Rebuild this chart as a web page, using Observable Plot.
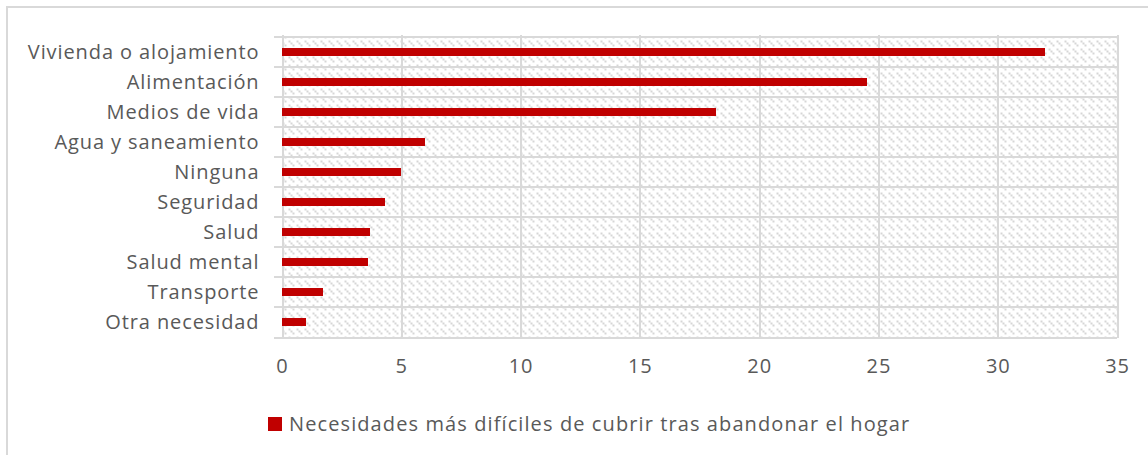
<!DOCTYPE html>
<html>
<head>
<meta charset="utf-8">
<script src="https://cdn.jsdelivr.net/npm/d3@7"></script>
<script src="https://cdn.jsdelivr.net/npm/@observablehq/plot@0.6"></script>
<style>
  html, body { margin: 0; padding: 0; background: #fff; overflow: hidden; }
  #wrap { position: relative; width: 1148px; height: 455px; }
  #border { position: absolute; left: 6px; top: 6px; width: 1200px; height: 500px;
            border: 2px solid #d9d9d9; box-sizing: border-box; pointer-events: none; }
  #legend { position: absolute; left: 268px; top: 410px; display: flex; align-items: center;
            font-family: "Open Sans", sans-serif; font-size: 20px; color: #595959; letter-spacing: 1.1px; }
  #legend .sw { width: 14px; height: 14px; background: #C00000; margin-right: 7px; }
</style>
</head>
<body>
<div id="wrap"><div id="chart"></div><div id="legend"><span class="sw"></span><span id="legtext"></span></div><div id="border"></div></div>
<script>
const categories = ["Vivienda o alojamiento", "Alimentación", "Medios de vida", "Agua y saneamiento", "Ninguna", "Seguridad", "Salud", "Salud mental", "Transporte", "Otra necesidad"];
const values = [32, 24.5, 18.2, 6.0, 5.0, 4.3, 3.7, 3.6, 1.7, 1.0];
const xTicks = [0, 5, 10, 15, 20, 25, 30, 35];
const seriesName = "Necesidades más difíciles de cubrir tras abandonar el hogar";

const data = categories.map((c, i) => ({category: c, value: values[i]}));

const W = 1148, H = 390, mt = 35, mb = 52, ml = 282, mr = 31;
const bw = (H - mt - mb) / categories.length;
const pxPerUnit = (W - ml - mr) / (xTicks[xTicks.length - 1] - xTicks[0]);
const stub = -8 / pxPerUnit;
const lastCat = categories[categories.length - 1];

const svg = Plot.plot({
  width: W, height: H,
  marginTop: mt, marginBottom: mb, marginLeft: ml, marginRight: mr,
  style: {fontFamily: "Open Sans, sans-serif", fontSize: "20px", color: "#595959", background: "transparent", letterSpacing: "0.9px"},
  x: {domain: [0, 35], ticks: xTicks},
  y: {domain: categories, padding: 0},
  marks: [
    Plot.frame({fill: "url(#hatch)", stroke: null}),
    Plot.gridX(xTicks, {stroke: "#d9d9d9", strokeOpacity: 1, strokeWidth: 2}),
    Plot.ruleY(categories, {y: d => d, x1: stub, x2: 35, dy: -bw / 2, stroke: "#d9d9d9", strokeWidth: 2}),
    Plot.ruleY([lastCat], {y: d => d, x1: stub, x2: 35, dy: bw / 2, stroke: "#d9d9d9", strokeWidth: 2}),
    Plot.barX(data, {y: "category", x: "value", fill: "#C00000", insetTop: 10.8, insetBottom: 10.8}),
    Plot.axisX({ticks: xTicks, tickSize: 0, tickPadding: 20, label: null}),
    Plot.axisY({tickSize: 0, tickPadding: 23, label: null})
  ]
});

const ns = "http://www.w3.org/2000/svg";
const defs = document.createElementNS(ns, "defs");
const pat = document.createElementNS(ns, "pattern");
pat.setAttribute("id", "hatch");
pat.setAttribute("patternUnits", "userSpaceOnUse");
pat.setAttribute("width", 8);
pat.setAttribute("height", 8);
const bg = document.createElementNS(ns, "rect");
bg.setAttribute("width", 8); bg.setAttribute("height", 8); bg.setAttribute("fill", "#ffffff");
pat.appendChild(bg);
[[0,0],[2,2],[4,4]].forEach(([x, y]) => {
  const r = document.createElementNS(ns, "rect");
  r.setAttribute("x", x); r.setAttribute("y", y);
  r.setAttribute("width", 2); r.setAttribute("height", 2);
  r.setAttribute("fill", "#d6d6d6");
  pat.appendChild(r);
});
defs.appendChild(pat);
svg.insertBefore(defs, svg.firstChild);
svg.setAttribute("shape-rendering", "crispEdges");

document.getElementById("chart").appendChild(svg);
document.getElementById("legtext").textContent = seriesName;
</script>
</body>
</html>
